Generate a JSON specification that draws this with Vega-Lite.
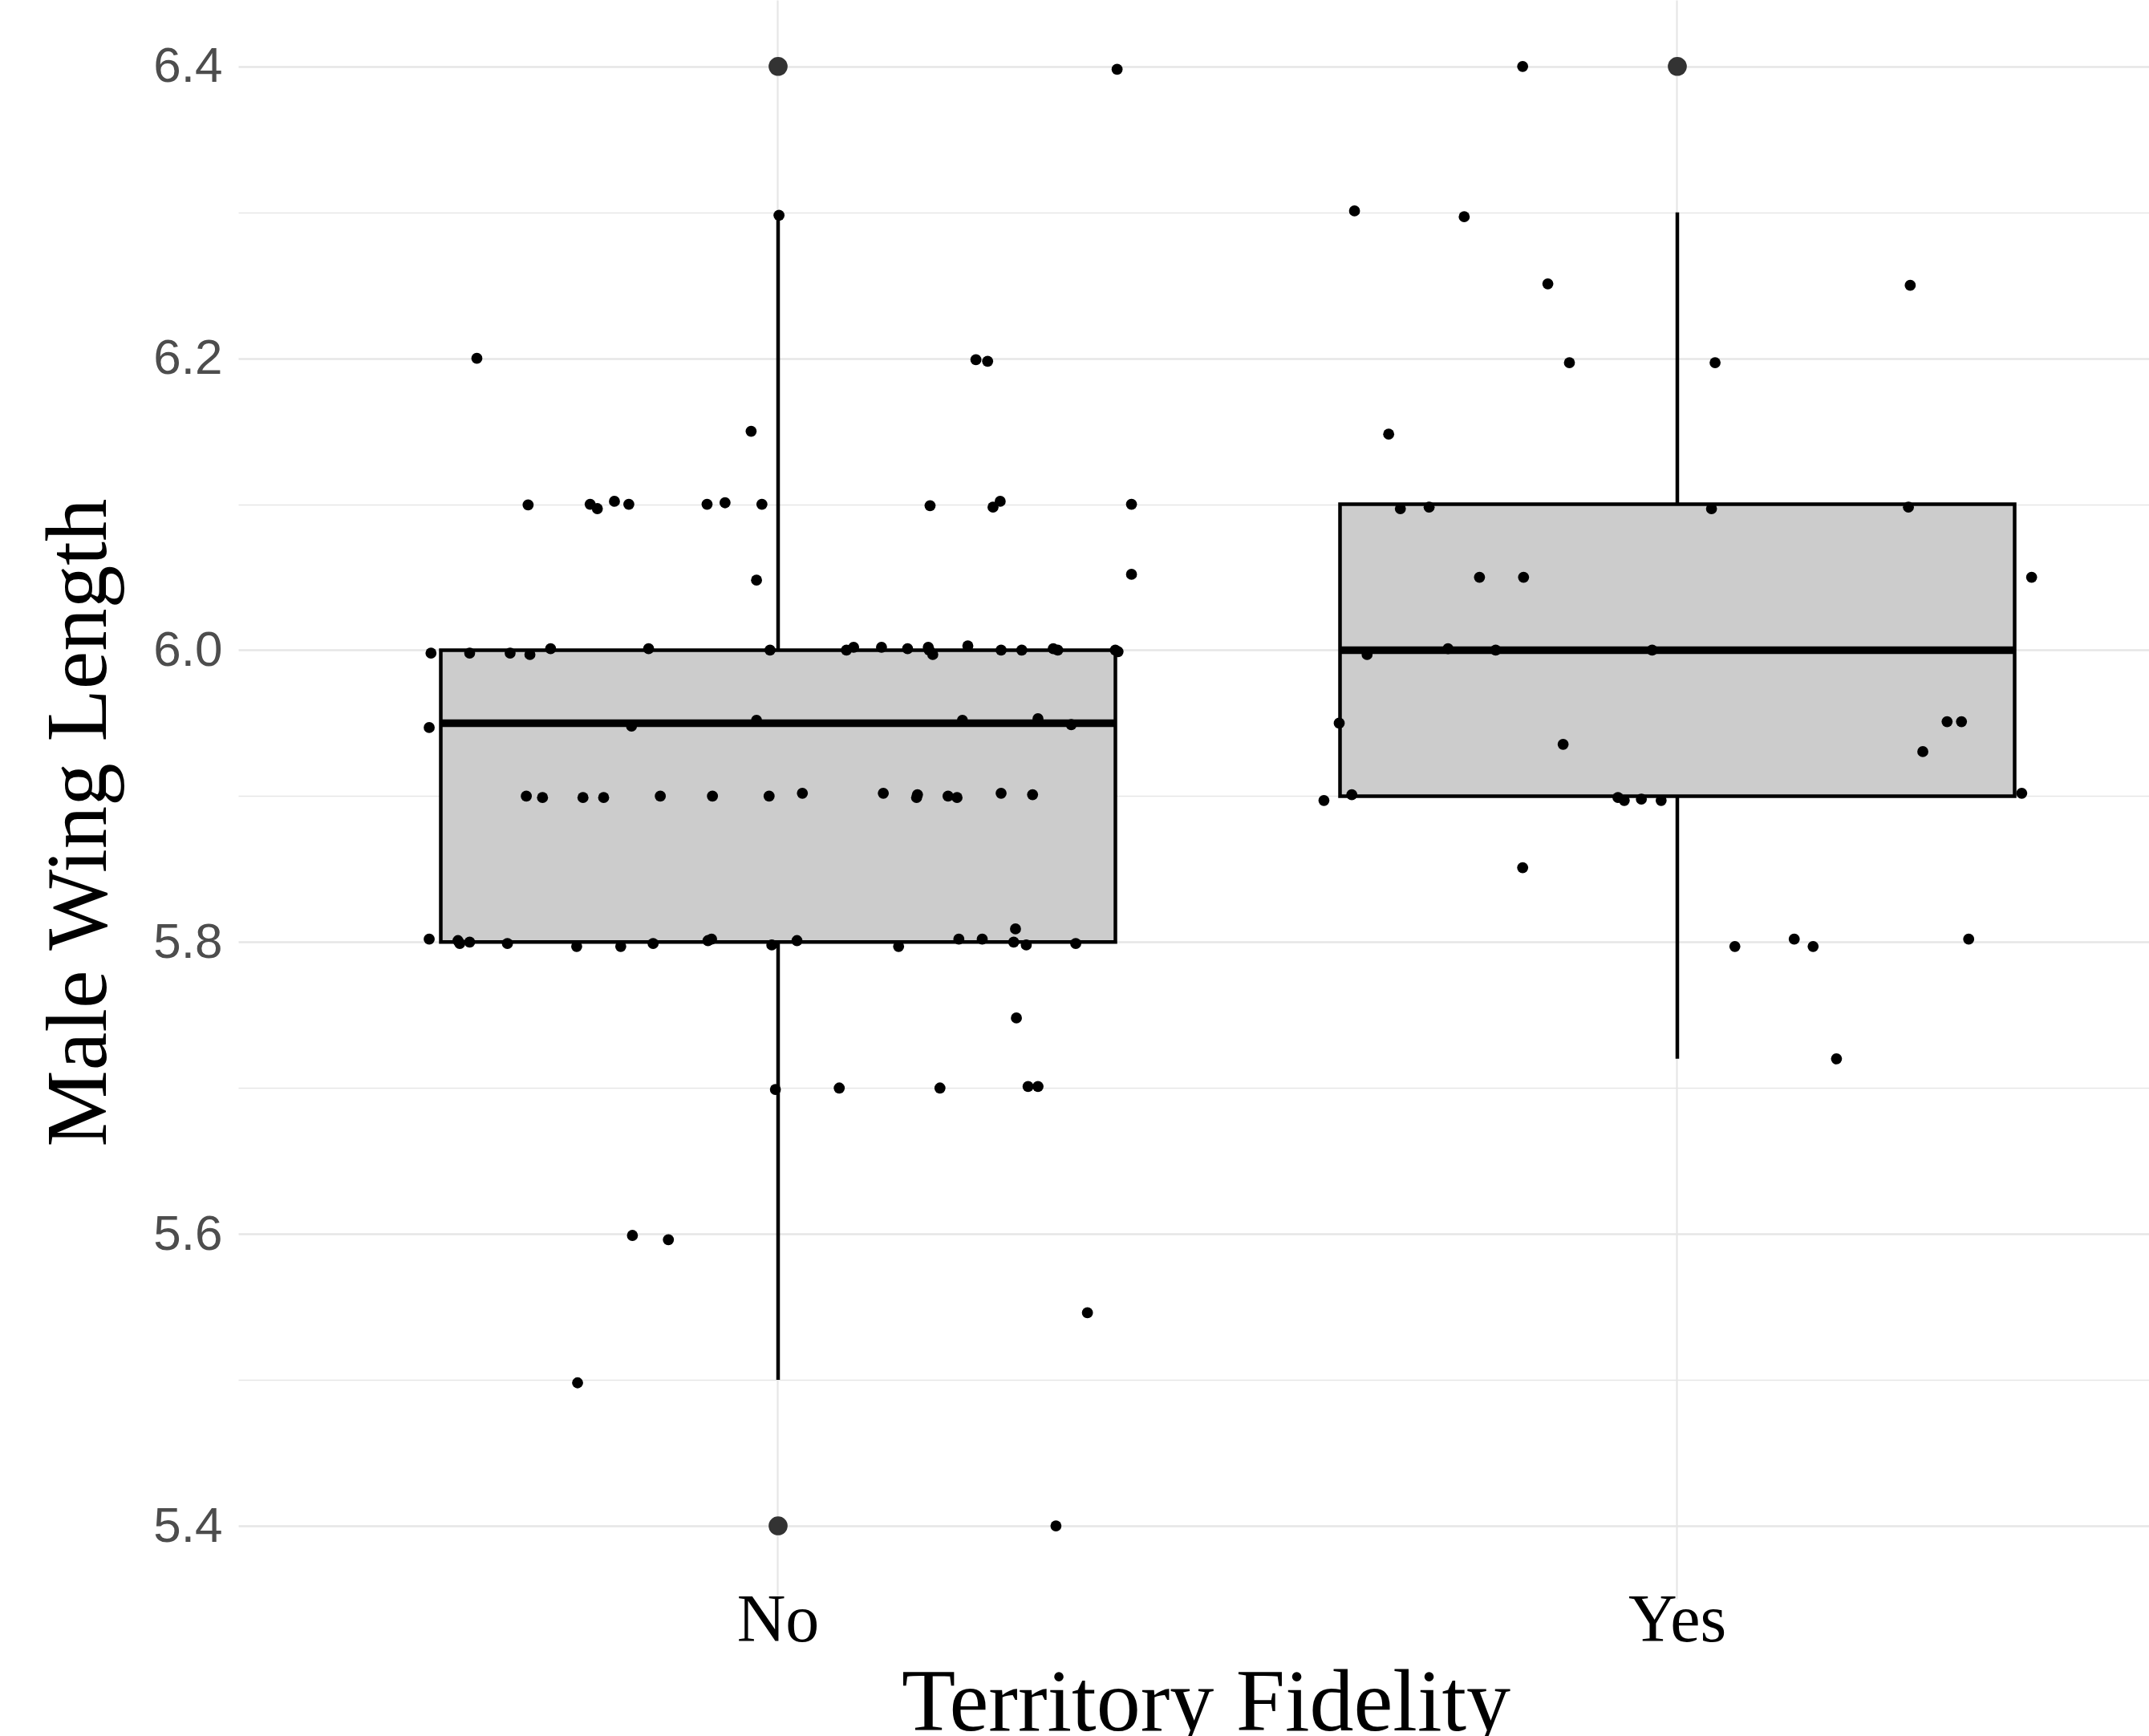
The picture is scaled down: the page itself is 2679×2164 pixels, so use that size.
{
  "$schema": "https://vega.github.io/schema/vega-lite/v6.json",
  "width": 2382,
  "height": 1993,
  "autosize": "none",
  "padding": {"left": 297, "top": 0, "right": 0, "bottom": 171},
  "background": "white",
  "config": {"view": {"stroke": null}},
  "datasets": {
    "boxes": [
      {"g": "No", "lower": 5.5, "q1": 5.8, "median": 5.95, "q3": 6.0, "upper": 6.3},
      {"g": "Yes", "lower": 5.72, "q1": 5.9, "median": 6.0, "q3": 6.1, "upper": 6.3}
    ],
    "outliers": [
      {"g": "No", "v": 5.4},
      {"g": "No", "v": 6.4},
      {"g": "Yes", "v": 6.4}
    ],
    "points": [
      {"g": "No", "v": 6.398, "j": 0.377},
      {"g": "No", "v": 6.298, "j": 0.001},
      {"g": "No", "v": 6.2, "j": -0.335},
      {"g": "No", "v": 6.199, "j": 0.22},
      {"g": "No", "v": 6.198, "j": 0.233},
      {"g": "No", "v": 6.15, "j": -0.03},
      {"g": "No", "v": 6.0995, "j": -0.278},
      {"g": "No", "v": 6.1, "j": -0.209},
      {"g": "No", "v": 6.097, "j": -0.201},
      {"g": "No", "v": 6.102, "j": -0.182},
      {"g": "No", "v": 6.1, "j": -0.166},
      {"g": "No", "v": 6.1, "j": -0.079},
      {"g": "No", "v": 6.101, "j": -0.059},
      {"g": "No", "v": 6.1, "j": -0.018},
      {"g": "No", "v": 6.099, "j": 0.169},
      {"g": "No", "v": 6.098, "j": 0.239},
      {"g": "No", "v": 6.102, "j": 0.247},
      {"g": "No", "v": 6.1, "j": 0.393},
      {"g": "No", "v": 6.048, "j": -0.024},
      {"g": "No", "v": 6.052, "j": 0.393},
      {"g": "No", "v": 5.998, "j": -0.386},
      {"g": "No", "v": 5.998, "j": -0.343},
      {"g": "No", "v": 5.998, "j": -0.298},
      {"g": "No", "v": 5.997, "j": -0.276},
      {"g": "No", "v": 6.001, "j": -0.253},
      {"g": "No", "v": 6.001, "j": -0.144},
      {"g": "No", "v": 6.0, "j": -0.009},
      {"g": "No", "v": 6.0, "j": 0.076},
      {"g": "No", "v": 6.002, "j": 0.084},
      {"g": "No", "v": 6.002, "j": 0.115},
      {"g": "No", "v": 6.001, "j": 0.144},
      {"g": "No", "v": 6.002, "j": 0.167},
      {"g": "No", "v": 6.0, "j": 0.168},
      {"g": "No", "v": 5.997, "j": 0.172},
      {"g": "No", "v": 6.003, "j": 0.211},
      {"g": "No", "v": 6.0, "j": 0.248},
      {"g": "No", "v": 6.0, "j": 0.271},
      {"g": "No", "v": 6.001, "j": 0.306},
      {"g": "No", "v": 6.0, "j": 0.311},
      {"g": "No", "v": 6.0, "j": 0.375},
      {"g": "No", "v": 5.999, "j": 0.378},
      {"g": "No", "v": 5.947, "j": -0.388},
      {"g": "No", "v": 5.948, "j": -0.163},
      {"g": "No", "v": 5.952, "j": -0.024},
      {"g": "No", "v": 5.952, "j": 0.205},
      {"g": "No", "v": 5.953, "j": 0.289},
      {"g": "No", "v": 5.949, "j": 0.326},
      {"g": "No", "v": 5.9, "j": -0.28},
      {"g": "No", "v": 5.899, "j": -0.262},
      {"g": "No", "v": 5.899, "j": -0.217},
      {"g": "No", "v": 5.899, "j": -0.194},
      {"g": "No", "v": 5.9, "j": -0.131},
      {"g": "No", "v": 5.9, "j": -0.073},
      {"g": "No", "v": 5.9, "j": -0.01},
      {"g": "No", "v": 5.902, "j": 0.027},
      {"g": "No", "v": 5.902, "j": 0.117},
      {"g": "No", "v": 5.899, "j": 0.154},
      {"g": "No", "v": 5.901, "j": 0.155},
      {"g": "No", "v": 5.9, "j": 0.189},
      {"g": "No", "v": 5.899, "j": 0.199},
      {"g": "No", "v": 5.902, "j": 0.248},
      {"g": "No", "v": 5.901, "j": 0.283},
      {"g": "No", "v": 5.802, "j": -0.388},
      {"g": "No", "v": 5.801, "j": -0.356},
      {"g": "No", "v": 5.799, "j": -0.354},
      {"g": "No", "v": 5.8, "j": -0.343},
      {"g": "No", "v": 5.799, "j": -0.301},
      {"g": "No", "v": 5.797, "j": -0.224},
      {"g": "No", "v": 5.797, "j": -0.175},
      {"g": "No", "v": 5.799, "j": -0.139},
      {"g": "No", "v": 5.801, "j": -0.078},
      {"g": "No", "v": 5.802, "j": -0.074},
      {"g": "No", "v": 5.798, "j": -0.007},
      {"g": "No", "v": 5.801, "j": 0.021},
      {"g": "No", "v": 5.797, "j": 0.134},
      {"g": "No", "v": 5.802, "j": 0.201},
      {"g": "No", "v": 5.802, "j": 0.227},
      {"g": "No", "v": 5.8, "j": 0.262},
      {"g": "No", "v": 5.798, "j": 0.276},
      {"g": "No", "v": 5.799, "j": 0.331},
      {"g": "No", "v": 5.809, "j": 0.264},
      {"g": "No", "v": 5.748, "j": 0.265},
      {"g": "No", "v": 5.699, "j": -0.003},
      {"g": "No", "v": 5.7, "j": 0.068},
      {"g": "No", "v": 5.7, "j": 0.18},
      {"g": "No", "v": 5.701, "j": 0.278},
      {"g": "No", "v": 5.701, "j": 0.289},
      {"g": "No", "v": 5.599, "j": -0.162},
      {"g": "No", "v": 5.596, "j": -0.122},
      {"g": "No", "v": 5.546, "j": 0.344},
      {"g": "No", "v": 5.498, "j": -0.223},
      {"g": "No", "v": 5.4, "j": 0.309},
      {"g": "Yes", "v": 6.4, "j": -0.172},
      {"g": "Yes", "v": 6.301, "j": -0.359},
      {"g": "Yes", "v": 6.297, "j": -0.237},
      {"g": "Yes", "v": 6.251, "j": -0.144},
      {"g": "Yes", "v": 6.25, "j": 0.259},
      {"g": "Yes", "v": 6.197, "j": -0.12},
      {"g": "Yes", "v": 6.197, "j": 0.042},
      {"g": "Yes", "v": 6.148, "j": -0.321},
      {"g": "Yes", "v": 6.097, "j": -0.308},
      {"g": "Yes", "v": 6.098, "j": -0.276},
      {"g": "Yes", "v": 6.097, "j": 0.038},
      {"g": "Yes", "v": 6.098, "j": 0.257},
      {"g": "Yes", "v": 6.05, "j": -0.22},
      {"g": "Yes", "v": 6.05, "j": -0.171},
      {"g": "Yes", "v": 6.05, "j": 0.394},
      {"g": "Yes", "v": 5.997, "j": -0.345},
      {"g": "Yes", "v": 6.001, "j": -0.255},
      {"g": "Yes", "v": 6.0, "j": -0.202},
      {"g": "Yes", "v": 6.0, "j": -0.028},
      {"g": "Yes", "v": 5.95, "j": -0.376},
      {"g": "Yes", "v": 5.951, "j": 0.3},
      {"g": "Yes", "v": 5.951, "j": 0.316},
      {"g": "Yes", "v": 5.9355, "j": -0.127},
      {"g": "Yes", "v": 5.9305, "j": 0.273},
      {"g": "Yes", "v": 5.897, "j": -0.393},
      {"g": "Yes", "v": 5.901, "j": -0.362},
      {"g": "Yes", "v": 5.899, "j": -0.066},
      {"g": "Yes", "v": 5.897, "j": -0.059},
      {"g": "Yes", "v": 5.898, "j": -0.04},
      {"g": "Yes", "v": 5.897, "j": -0.018},
      {"g": "Yes", "v": 5.902, "j": 0.383},
      {"g": "Yes", "v": 5.851, "j": -0.172},
      {"g": "Yes", "v": 5.797, "j": 0.064},
      {"g": "Yes", "v": 5.802, "j": 0.13},
      {"g": "Yes", "v": 5.797, "j": 0.151},
      {"g": "Yes", "v": 5.802, "j": 0.324},
      {"g": "Yes", "v": 5.72, "j": 0.177}
    ]
  },
  "layer": [
    {
      "data": {"name": "boxes"},
      "mark": {"type": "rule", "stroke": "black", "strokeWidth": 4.5},
      "encoding": {
        "x": {"field": "g", "type": "nominal", "title": "Territory Fidelity",
          "scale": {"domain": ["No", "Yes"], "paddingInner": 0, "paddingOuter": 0.062444, "align": 0.80357},
          "axis": {"grid": true, "gridColor": "#E6E6E6", "gridWidth": 2.2, "bandPosition": 0.5, "domain": false, "ticks": false,
            "labelFont": "Liberation Serif", "labelFontSize": 84, "labelColor": "black", "labelPadding": 52, "labelBaseline": "alphabetic", "labelAngle": 0,
            "titleFont": "Liberation Serif", "titleFontSize": 110, "titleFontWeight": "normal", "titleColor": "black",
            "titleX": 1206, "titleY": 163, "titleBaseline": "alphabetic", "titleAlign": "center"}},
        "y": {"field": "lower", "type": "quantitative", "title": "Male Wing Length",
          "scale": {"domain": [5.35, 6.4455], "nice": false, "zero": false},
          "axis": {"values": [5.4, 5.5, 5.6, 5.7, 5.8, 5.9, 6.0, 6.1, 6.2, 6.3, 6.4],
            "labelExpr": "round(datum.value*10)%2==0 ? format(datum.value,'.1f') : ''",
            "labelOverlap": false,
            "grid": true, "gridColor": "#E6E6E6",
            "gridWidth": {"condition": {"test": "round(datum.value*10)%2==0", "value": 2.4}, "value": 1.5},
            "domain": false, "ticks": false,
            "labelFont": "Liberation Sans", "labelFontSize": 62, "labelColor": "#4D4D4D", "labelPadding": 20,
            "titleFont": "Liberation Serif", "titleFontSize": 107, "titleFontWeight": "normal", "titleColor": "black",
            "titleX": -166, "titleY": 1025, "titleBaseline": "alphabetic", "titleAlign": "center", "titleAngle": 270}},
        "y2": {"field": "upper"}
      }
    },
    {
      "data": {"name": "boxes"},
      "mark": {"type": "bar", "width": 841, "fill": "#CCCCCC", "stroke": "black", "strokeWidth": 4.5},
      "encoding": {
        "x": {"field": "g", "type": "nominal", "title": "Territory Fidelity"},
        "y": {"field": "q1", "type": "quantitative", "title": "Male Wing Length"},
        "y2": {"field": "q3"}
      }
    },
    {
      "data": {"name": "boxes"},
      "mark": {"type": "tick", "size": 841, "thickness": 9.5, "color": "black", "opacity": 1},
      "encoding": {
        "x": {"field": "g", "type": "nominal", "title": "Territory Fidelity"},
        "y": {"field": "median", "type": "quantitative", "title": "Male Wing Length"}
      }
    },
    {
      "data": {"name": "outliers"},
      "mark": {"type": "point", "filled": true, "size": 560, "color": "#333333", "opacity": 1},
      "encoding": {
        "x": {"field": "g", "type": "nominal", "title": "Territory Fidelity"},
        "y": {"field": "v", "type": "quantitative", "title": "Male Wing Length"}
      }
    },
    {
      "data": {"name": "points"},
      "mark": {"type": "point", "filled": true, "size": 190, "color": "black", "opacity": 1},
      "encoding": {
        "x": {"field": "g", "type": "nominal", "title": "Territory Fidelity"},
        "xOffset": {"field": "j", "type": "quantitative", "scale": {"domain": [-0.5, 0.5], "range": [0, 1121]}},
        "y": {"field": "v", "type": "quantitative", "title": "Male Wing Length"}
      }
    }
  ]
}
